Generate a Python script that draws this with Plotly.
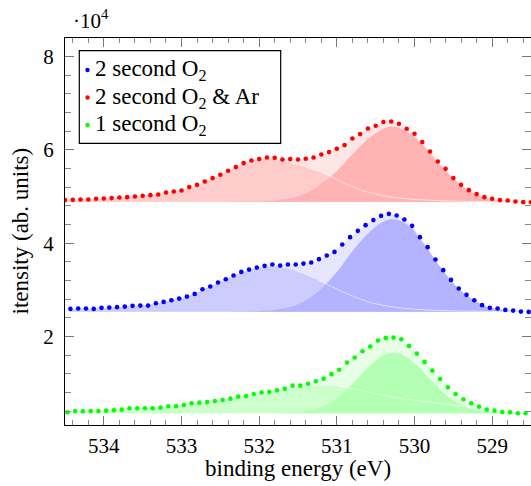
import plotly.graph_objects as go

# ---------------- data (counts) ----------------
E_RED = [534.5, 534.4, 534.3, 534.2, 534.1, 534.0, 533.9, 533.8, 533.7, 533.6, 533.5, 533.4, 533.3, 533.2,
         533.1, 533.0, 532.9, 532.8, 532.7, 532.6, 532.5, 532.4, 532.3, 532.2, 532.1, 532.0, 531.9, 531.8,
         531.7, 531.6, 531.5, 531.4, 531.3, 531.2, 531.1, 531.0, 530.9, 530.8, 530.7, 530.6, 530.5, 530.4,
         530.3, 530.2, 530.1, 530.0, 529.9, 529.8, 529.7, 529.6, 529.5, 529.4, 529.3, 529.2, 529.1, 529.0,
         528.9, 528.8, 528.7, 528.6, 528.5]
E_BLUE = [534.43, 534.33, 534.23, 534.13, 534.03, 533.93, 533.83, 533.73, 533.63, 533.53, 533.43, 533.33,
          533.23, 533.13, 533.03, 532.93, 532.83, 532.73, 532.63, 532.53, 532.43, 532.33, 532.23, 532.13,
          532.03, 531.93, 531.83, 531.73, 531.63, 531.53, 531.43, 531.33, 531.23, 531.13, 531.03, 530.93,
          530.83, 530.73, 530.63, 530.53, 530.43, 530.33, 530.23, 530.13, 530.03, 529.93, 529.83, 529.73,
          529.63, 529.53, 529.43, 529.33, 529.23, 529.13, 529.03, 528.93, 528.83, 528.73, 528.63, 528.53,
          528.43]
E_GREEN = [534.47, 534.37, 534.27, 534.17, 534.07, 533.97, 533.87, 533.77, 533.67, 533.57, 533.47, 533.37,
           533.27, 533.17, 533.07, 532.97, 532.87, 532.77, 532.67, 532.57, 532.47, 532.37, 532.27, 532.17,
           532.07, 531.97, 531.87, 531.77, 531.67, 531.57, 531.47, 531.37, 531.27, 531.17, 531.07, 530.97,
           530.87, 530.77, 530.67, 530.57, 530.47, 530.37, 530.27, 530.17, 530.07, 529.97, 529.87, 529.77,
           529.67, 529.57, 529.47, 529.37, 529.27, 529.17, 529.07, 528.97, 528.87, 528.77, 528.67, 528.57,
           528.47]

I_RED = [49230, 49290, 49360, 49360, 49510, 49570, 49660, 49790, 49870, 50000, 50150, 50300, 50430, 50860,
         51070, 51290, 52020, 52510, 53220, 53950, 54660, 55520, 56310, 57170, 57730, 58030, 58370, 58300,
         57940, 58030, 57940, 58090, 58370, 59010, 59530, 60240, 61030, 62450, 63390, 64590, 65170, 65970,
         66090, 65600, 64530, 63450, 61670, 59660, 57510, 55940, 53950, 52510, 51370, 50520, 49870, 49510,
         49230, 49140, 48930, 48800, 48760]
I_BLUE = [25900, 25970, 25970, 25900, 26120, 26180, 26270, 26390, 26550, 26610, 26610, 27120, 27400, 27770,
          28110, 28540, 29120, 30130, 30690, 31550, 32270, 33050, 33840, 34330, 34760, 35130, 35410, 35190,
          35410, 35410, 35620, 35840, 36570, 37340, 38130, 39700, 41290, 42640, 43860, 44940, 45860, 46290,
          45920, 45060, 43710, 41290, 39140, 36480, 34210, 32120, 30260, 28910, 27770, 26700, 26120, 25970,
          25690, 25540, 25320, 25260, 25210]
I_GREEN = [3730, 4010, 3950, 4010, 4010, 4080, 4160, 4290, 4590, 4590, 4590, 4590, 4720, 5020, 5020, 5300,
           5670, 5790, 5940, 6160, 6370, 6650, 7080, 7230, 7660, 7960, 8130, 8450, 8780, 9440, 9440, 9850,
           10390, 10920, 11910, 12850, 14380, 15490, 16820, 17850, 19100, 19680, 19740, 19400, 17960, 16310,
           14530, 12660, 10880, 9100, 7660, 6520, 5670, 4940, 4290, 4080, 3800, 3730, 3520, 3520, 3480]

# fitted background levels
BG_RED = 48850
BG_BLUE = 25300
BG_GREEN = 3500

# fitted component 1 (broad, ~531.9 eV)
A_RED = [380, 440, 500, 550, 620, 700, 800, 920, 1000, 1150, 1300, 1450, 1650, 1900, 2200, 2550, 3000, 3600,
         4300, 5050, 5800, 6650, 7450, 8250, 8800, 9150, 9350, 9200, 8800, 8400, 7900, 7400, 6800, 6300, 5600,
         4800, 4000, 3300, 2600, 2100, 1700, 1300, 1050, 850, 680, 550, 450, 360, 290, 230, 180, 140, 110, 90,
         70, 50, 40, 30, 20, 20, 10]
A_BLUE = [600, 640, 670, 700, 780, 860, 950, 1070, 1200, 1320, 1450, 1750, 2050, 2450, 2800, 3250, 3850, 4700,
          5400, 6200, 6950, 7700, 8450, 8950, 9350, 9600, 9700, 9550, 9200, 8700, 8100, 7400, 6700, 5900, 5100,
          4300, 3600, 2900, 2300, 1800, 1450, 1150, 900, 720, 580, 470, 380, 300, 240, 190, 150, 120, 90, 70,
          50, 40, 30, 20, 20, 10, 10]
A_GREEN = [350, 400, 450, 500, 540, 600, 680, 780, 900, 1000, 1100, 1180, 1300, 1450, 1600, 1780, 2000, 2200,
           2400, 2620, 2850, 3150, 3450, 3750, 4050, 4350, 4600, 4850, 5150, 5400, 5600, 5750, 5850, 5880,
           5850, 5750, 5550, 5250, 4850, 4450, 4100, 3750, 3450, 3180, 2950, 2730, 2530, 2330, 2130, 1900,
           1670, 1430, 1180, 850, 600, 430, 300, 200, 160, 100, 60]

# fitted component 2 (main, ~530.3 eV)
B_RED = [0] * 22 + [10, 20, 50, 90, 170, 290, 500, 790, 1220, 1850, 2720, 3850, 5100, 6650, 8350, 10200,
                    11900, 13500, 14700, 15700, 16150, 15900, 15050, 13900, 12300, 10450, 8450, 6700, 5000,
                    3550, 2400, 1550, 950, 580, 340, 200, 110, 60, 30]
B_BLUE = [0] * 21 + [15, 30, 60, 110, 200, 330, 550, 900, 1400, 2150, 3150, 4500, 6100, 7900, 10000, 12300,
                     14400, 16250, 17850, 19100, 19800, 19750, 19050, 17900, 15600, 13400, 10900, 8700, 6650,
                     4850, 3500, 2400, 1500, 880, 500, 300, 180, 100, 50, 30]
B_GREEN = [0] * 26 + [20, 40, 80, 165, 310, 570, 980, 1600, 2490, 3670, 5130, 6810, 8600, 10300, 11720,
                      12670, 13000, 12670, 11720, 10300, 8600, 6810, 5130, 3670, 2490, 1600, 980, 570, 310,
                      165, 80, 40, 20, 0, 0]

X_TICKS = [534, 533, 532, 531, 530, 529]
Y_TICKS = [20000, 40000, 60000, 80000]
Y_TICK_TEXT = ["2", "4", "6", "8"]
NAMES = ["2 second O<sub>2</sub>", "2 second O<sub>2</sub> &amp; Ar", "1 second O<sub>2</sub>"]

FONT = "Liberation Serif, DejaVu Serif, serif"
FS = 21      # tick labels
FT = 23      # titles / legend

series = [
    dict(x=E_BLUE, y=I_BLUE, bg=BG_BLUE, a=A_BLUE, b=B_BLUE, dot="rgb(0,0,255)",
         env="#e6e6ff", ca="#ccccff", cb="#b3b3ff"),
    dict(x=E_RED, y=I_RED, bg=BG_RED, a=A_RED, b=B_RED, dot="rgb(255,0,0)",
         env="#ffe6e6", ca="#ffcccc", cb="#ffb3b3"),
    dict(x=E_GREEN, y=I_GREEN, bg=BG_GREEN, a=A_GREEN, b=B_GREEN, dot="rgb(0,255,0)",
         env="#e6ffe6", ca="#ccffcc", cb="#b3ffb3"),
]

fig = go.Figure()


def area(xs, top, bg, color):
    n = len(xs)
    return go.Scatter(x=list(xs) + list(xs[::-1]), y=list(top) + [bg] * n, fill="toself",
                      fillcolor=color, mode="lines", line=dict(width=0, shape="spline", smoothing=0.6),
                      hoverinfo="skip", showlegend=False)


for s in series:
    xs, bg = s["x"], s["bg"]
    env = [bg + a + b for a, b in zip(s["a"], s["b"])]
    ta = [bg + a for a in s["a"]]
    tb = [bg + b for b in s["b"]]
    fig.add_trace(area(xs, env, bg, s["env"]))
    fig.add_trace(area(xs, ta, bg, s["ca"]))
    fig.add_trace(area(xs, tb, bg, s["cb"]))
    # outline of component 1 where it runs through component 2
    idx = [i for i in range(len(xs)) if s["b"][i] >= s["a"][i] * 0.5]
    lo = idx[0]
    fig.add_trace(go.Scatter(x=xs[lo:], y=ta[lo:], mode="lines",
                             line=dict(color="rgba(255,255,255,0.55)", width=1, shape="spline"),
                             hoverinfo="skip", showlegend=False))

for s, name in zip(series, NAMES):
    fig.add_trace(go.Scatter(x=s["x"], y=s["y"], mode="markers", name=name,
                             marker=dict(color=s["dot"], size=4.6, line=dict(width=0)),
                             showlegend=False))

W, H = 531, 486
L, R, T, B = 65, 0, 38, 61
pw, ph = W - L - R, H - T - B


def px(xp):
    return (xp - L) / pw


def py(yp):
    return (H - B - yp) / ph


axis_common = dict(showgrid=False, zeroline=False, showline=True, linecolor="black", linewidth=1.2,
                   mirror="allticks", ticks="inside", ticklen=9, tickwidth=1, tickcolor="#777",
                   tickfont=dict(family=FONT, size=FS, color="black"))

fig.update_layout(
    width=W, height=H, margin=dict(l=L, r=R, t=T, b=B),
    paper_bgcolor="white", plot_bgcolor="white",
    font=dict(family=FONT, size=FS, color="black"),
    xaxis=dict(range=[534.5, 528.5], tickmode="array", tickvals=X_TICKS,
               ticktext=[str(v) for v in X_TICKS],
               minor=dict(tickmode="linear", tick0=534, dtick=0.2, ticks="inside", ticklen=5,
                          tickcolor="#888", tickwidth=1),
               ticklabelstandoff=2, **axis_common),
    yaxis=dict(range=[1000, 84000], tickmode="array", tickvals=Y_TICKS, ticktext=Y_TICK_TEXT,
               minor=dict(tickmode="linear", tick0=0, dtick=4000, ticks="inside", ticklen=6,
                          tickcolor="#888", tickwidth=1),
               ticklabelstandoff=6, **axis_common),
    showlegend=False,
)

ann = []
ann.append(dict(text="·10<sup>4</sup>", xref="paper", yref="paper", x=px(71), y=py(20),
                xanchor="left", yanchor="middle", showarrow=False,
                font=dict(family=FONT, size=FS, color="black")))
ann.append(dict(text="binding energy (eV)", xref="paper", yref="paper", x=0.5, y=py(468),
                xanchor="center", yanchor="middle", showarrow=False,
                font=dict(family=FONT, size=FT, color="black")))
ann.append(dict(text="itensity (ab. units)", xref="paper", yref="paper", x=px(20), y=0.5,
                xanchor="center", yanchor="middle", textangle=-90, showarrow=False,
                font=dict(family=FONT, size=FT, color="black")))

shapes = [dict(type="rect", xref="paper", yref="paper", x0=px(79.3), x1=px(280.7), y0=py(143.3),
               y1=py(50.7), line=dict(color="black", width=1.2), fillcolor="white", layer="above")]
rows = [70, 97.5, 125]
for s, name, ry in zip(series, NAMES, rows):
    shapes.append(dict(type="circle", xref="paper", yref="paper", xsizemode="pixel", ysizemode="pixel",
                       xanchor=px(87.5), yanchor=py(ry), x0=-2.2, x1=2.2, y0=-2.2, y1=2.2,
                       fillcolor=s["dot"], line=dict(width=0), layer="above"))
    ann.append(dict(text=name, xref="paper", yref="paper", x=px(92.5), y=py(ry), xanchor="left",
                    yanchor="middle", showarrow=False,
                    font=dict(family=FONT, size=FT, color="black")))

fig.update_layout(annotations=ann, shapes=shapes)
fig.write_html("out.html")
